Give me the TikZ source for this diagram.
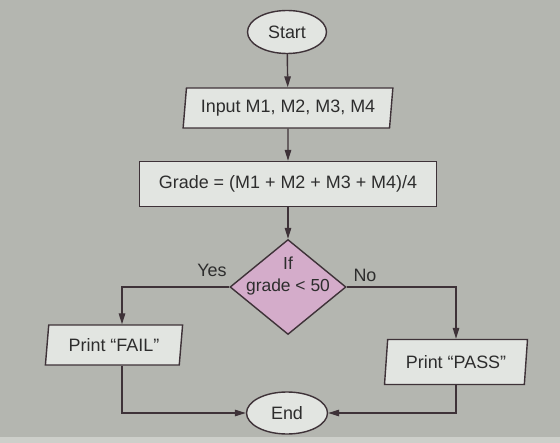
\documentclass[tikz,border=0pt]{standalone}
\usepackage{fontspec}
\setmainfont{Liberation Sans}
\usetikzlibrary{shapes.geometric,arrows.meta}
\definecolor{bg}{RGB}{180,182,176}
\definecolor{bgedge}{RGB}{205,207,202}
\definecolor{boxfill}{RGB}{226,229,225}
\definecolor{pinkfill}{RGB}{212,172,202}
\definecolor{ink}{RGB}{62,50,56}
\definecolor{txt}{RGB}{45,45,45}
\begin{document}
\begin{tikzpicture}[x=1bp,y=-1bp,
  every node/.style={font=\fontsize{18}{21}\selectfont, text=txt},
  base/.style={draw=ink, line width=1.4bp, fill=boxfill},
  term/.style={base, ellipse, inner sep=0pt},
  io/.style={base, trapezium, trapezium left angle=80, trapezium right angle=100, trapezium stretches=true, inner sep=0pt},
  proc/.style={base, rectangle, inner sep=0pt},
  dec/.style={base, diamond, fill=pinkfill, inner sep=0pt},
  lbl/.style={inner sep=0pt},
  link/.style={draw=ink, line width=1.4bp, -{Triangle[length=11bp,width=6.5bp]}}]
\fill[bg] (0,0) rectangle (560,443);
\fill[bgedge] (0,437) rectangle (560,443);
\node[term, minimum width=79bp, minimum height=43bp] (start) at (287,32) {Start};
\node[io, minimum width=210bp, minimum height=40bp] (input) at (288,108) {Input M1, M2, M3, M4};
\node[proc, minimum width=297bp, minimum height=45bp] (grade) at (288,184) {Grade = (M1 + M2 + M3 + M4)/4};
\node[dec, minimum width=116bp, minimum height=95bp] (cond) at (288,287) {};
\node[lbl, align=center, font=\fontsize{17.5}{22}\selectfont] (condtxt) at (288,276) {If\\grade < 50};
\node[io, minimum width=138bp, minimum height=40bp] (fail) at (114,345) {Print “FAIL”};
\node[io, minimum width=143bp, minimum height=45bp] (pass) at (456,362) {Print “PASS”};
\node[term, minimum width=81bp, minimum height=42bp] (end) at (287,413) {End};
\node[lbl] (yes) at (212,270) {Yes};
\node[lbl] (no) at (365,275) {No};
\draw[link] (start) -- (input);
\draw[link] (input) -- (grade);
\draw[link] (grade) -- (cond);
\draw[link] (cond.west) -| ([xshift=8bp]fail.north);
\draw[link] (cond.east) -| (pass.north);
\draw[link] ([xshift=8bp]fail.south) |- (end.west);
\draw[link] (pass.south) |- (end.east);
\end{tikzpicture}
\end{document}
